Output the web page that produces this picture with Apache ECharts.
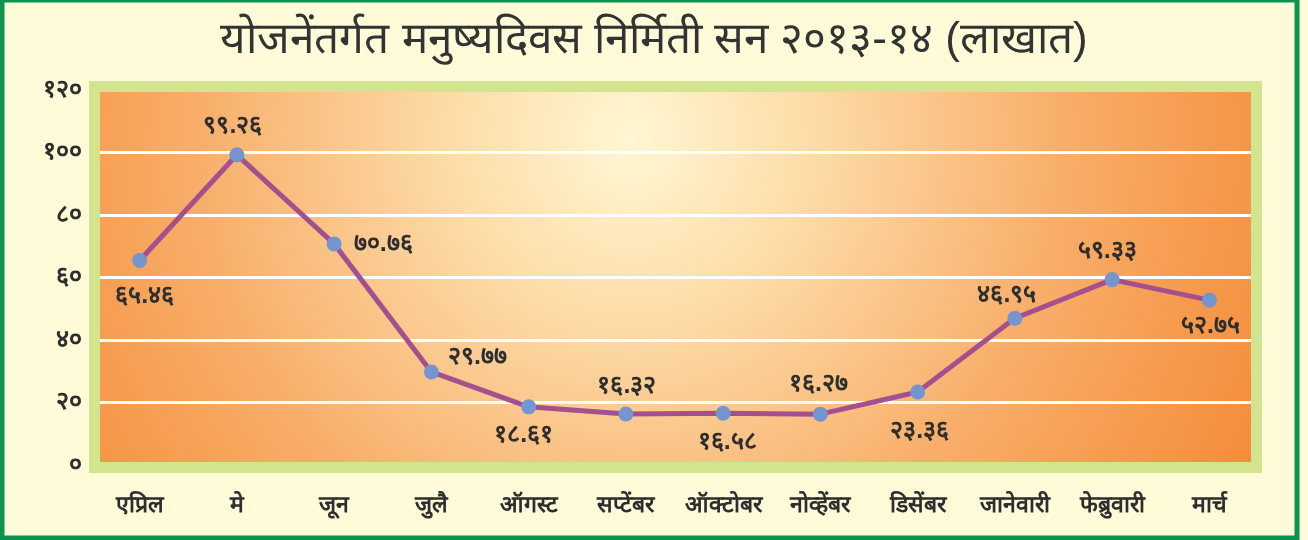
<!DOCTYPE html>
<html>
<head>
<meta charset="utf-8">
<script src="https://cdn.jsdelivr.net/npm/echarts@6/dist/echarts.min.js"></script>
<style>
html,body{margin:0;padding:0;background:#FFFBD8;}
#c{width:1308px;height:540px;}
</style>
</head>
<body>
<div id="c"></div>
<script>
// ---- data ----
var title = 'योजनेंतर्गत मनुष्यदिवस निर्मिती सन २०१३-१४ (लाखात)';
var months = ['एप्रिल','मे','जून','जुलै','ऑगस्ट','सप्टेंबर','ऑक्टोबर','नोव्हेंबर','डिसेंबर','जानेवारी','फेब्रुवारी','मार्च'];
var values = [65.46, 99.26, 70.76, 29.77, 18.61, 16.32, 16.58, 16.27, 23.36, 46.95, 59.33, 52.75];
var yTicks = [0, 20, 40, 60, 80, 100, 120];

// ---- label placement (layout only) ----
var labelOffsets = [[5,36],[-4,-29],[49,0],[46,-15],[-5,28],[1,-28],[4,29],[-2,-30],[2,39],[-8,-23],[-5,-28],[1,26]];

function dev(s){
  var d = '०१२३४५६७८९';
  return String(s).replace(/[0-9]/g, function(c){ return d[+c]; });
}
function fmt2(v){ return dev(v.toFixed(2)); }

var seriesData = values.map(function(v,i){
  return { value: v, label: { offset: labelOffsets[i] } };
});

var chart = echarts.init(document.getElementById('c'), null, {renderer:'canvas'});
var TXT = '#2e2e2e';
var option = {
  backgroundColor: '#FFFBD8',
  animation: false,
  title: {
    text: title, left: 'center', top: 14,
    textStyle: { fontSize: 44, fontWeight: 'normal', color: '#333333' }
  },
  grid: { left: 91, right: 50, top: 90, bottom: 75, containLabel: false },
  graphic: { elements: [
    { type: 'rect', z: -10, silent: true,
      shape: { x: 2, y: 0, width: 1295, height: 538 },
      style: { fill: 'transparent', stroke: '#0A9450', lineWidth: 5 } },
    { type: 'rect', z: -5, silent: true,
      shape: { x: 100, y: 92, width: 1151, height: 370 },
      style: { fill: { type: 'radial', x: 630, y: 140, r: 720, global: true,
        colorStops: [
          {offset:0, color:'#FFF7D3'},
          {offset:0.25, color:'#FDDCA8'},
          {offset:0.6, color:'#F8AE6A'},
          {offset:0.82, color:'#F6994B'},
          {offset:1, color:'#F48A38'}
        ] } } },
    { type: 'rect', z: 100, silent: true,
      shape: { x: 94.5, y: 86.5, width: 1162, height: 381 },
      style: { fill: 'transparent', stroke: '#D3E48F', lineWidth: 11 } }
  ]},
  xAxis: {
    type: 'category', data: months, boundaryGap: true,
    axisLine: { show: false }, axisTick: { show: false },
    axisLabel: { color: TXT, fontSize: 23, margin: 29, interval: 0, fontWeight: 'bold' },
    splitLine: { show: false }
  },
  yAxis: {
    type: 'value', min: 0, max: 120, interval: 20,
    axisLine: { show: false }, axisTick: { show: false },
    axisLabel: { color: TXT, fontSize: 25, margin: 9, fontWeight: 'bold',
      formatter: function(v){ return dev(v); } },
    splitLine: { show: true, lineStyle: { color: '#FFFFFF', width: 3 } }
  },
  series: [{
    type: 'line', data: seriesData,
    symbol: 'circle', symbolSize: 15,
    lineStyle: { color: '#A4508E', width: 5 },
    itemStyle: { color: '#7495D0' },
    label: { show: true, position: 'inside', color: TXT, fontSize: 25, fontWeight: 'bold',
      formatter: function(p){ return fmt2(p.value); } },
    z: 5
  }]
};
chart.setOption(option);
</script>
</body>
</html>
